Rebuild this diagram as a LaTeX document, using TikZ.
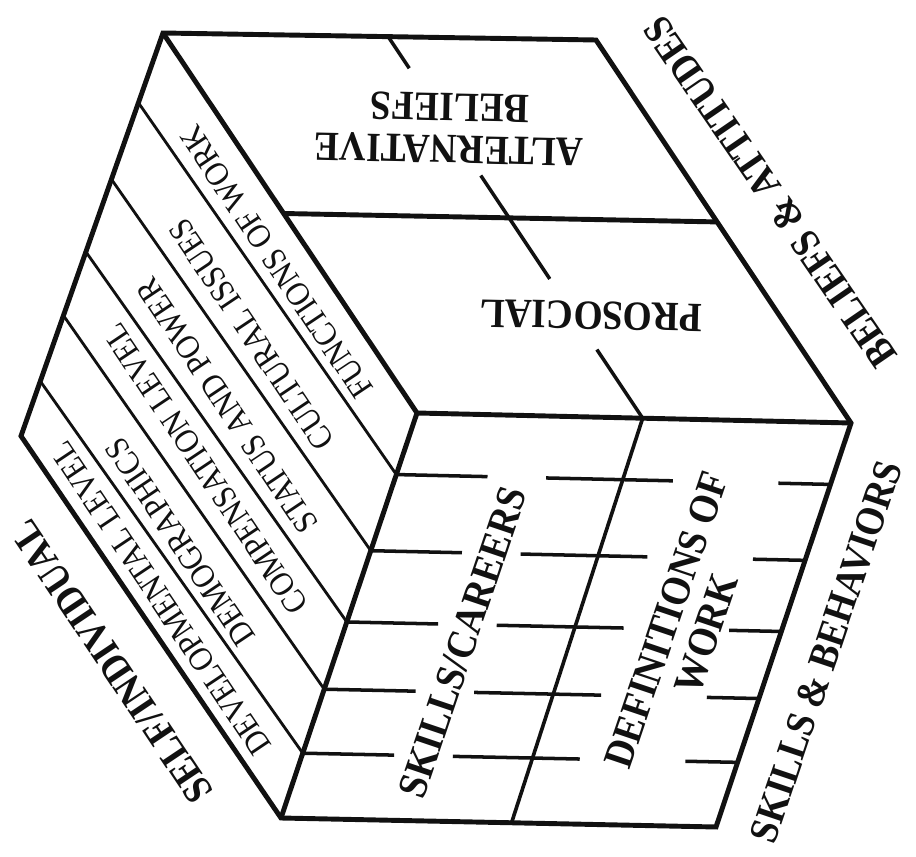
\documentclass[tikz,border=0pt]{standalone}
\usepackage{fontspec}
\setmainfont{Liberation Serif}[FakeStretch=0.9]
\usetikzlibrary{calc}

\begin{document}
\begin{tikzpicture}[
    x=0.3mm, y=-0.3mm,
    every node/.style={font=\rmfamily},
]

% ---------------------------------------------------------------- colours
\definecolor{ink}{HTML}{111111}   % every line and every word

% ================================================================
% Geometry, read off in pixels (y down), one unit = 0.3mm.
%
%   the cube is a slanted box seen from above:
%   top face    A B C D   (its words are upside down)
%   left face   A D E F   (six strips)
%   front face  D C G E   (two columns, six rows)
%
%   every inner line is placed by fractions along two opposite edges,
%   so it stays on its face
% ================================================================

\tikzset{
    cubeedge/.style={draw=ink, line width=4.2pt, line join=miter},
    divider/.style={draw=ink, line width=3.1pt},
    stripline/.style={draw=ink, line width=2.4pt},
    gridtick/.style={draw=ink, line width=3pt},
    facetxt/.style={font=\bfseries\fontsize{35.5}{36}\selectfont, text=ink,
        align=center, inner sep=0pt},
    striptxt/.style={font=\fontsize{29}{30}\selectfont, text=ink, inner sep=0pt},
    axistxt/.style={font=\bfseries\fontsize{35}{36}\selectfont, text=ink,
        inner sep=0pt},
}

\useasboundingbox (0,0) rectangle (916,857);

% ================================================================ corners
\coordinate (A) at (163,33);
\coordinate (B) at (596,40);
\coordinate (C) at (851,423);
\coordinate (D) at (417,413);
\coordinate (E) at (281,818);
\coordinate (F) at (21,436);
\coordinate (G) at (716,827);

% ================================================================ top face
\coordinate (tn) at ($(A)!0.52!(B)$);
\coordinate (ts) at ($(D)!0.52!(C)$);
\draw[cubeedge] ($(A)!0.475!(D)$) -- ($(B)!0.475!(C)$);
\foreach \qa/\qb in {0/0.083, 0.364/0.635, 0.82/1}
    \draw[gridtick] ($(tn)!\qa!(ts)$) -- ($(tn)!\qb!(ts)$);

\node[facetxt, rotate=178.7] (altbel)
    at ($($(A)!0.24!(D)$)!0.52!($(B)!0.24!(C)$)$) {ALTERNATIVE\\BELIEFS};
\node[facetxt, rotate=178.7] (prosoc)
    at ($($(A)!0.73!(D)$)!0.56!($(B)!0.73!(C)$)$) {PROSOCIAL};

% ================================================================ left face
\foreach \wa/\wd in {0.173/0.152, 0.363/0.340, 0.543/0.516, 0.701/0.682, 0.864/0.840}
    \draw[stripline] ($(A)!\wa!(F)$) -- ($(D)!\wd!(E)$);

\foreach \w/\txt [count=\i] in {0.097/FUNCTIONS OF WORK,
                                0.276/CULTURAL ISSUES,
                                0.452/STATUS AND POWER,
                                0.609/COMPENSATION LEVEL,
                                0.790/DEMOGRAPHICS,
                                0.930/DEVELOPMENTAL LEVEL}
    \node[striptxt, rotate=123.8] (strip\i)
        at ($($(A)!\w!(F)$)!0.5!($(D)!\w!(E)$)$) {\txt};

% ================================================================ front face
\draw[divider] (ts) -- ($(E)!0.53!(G)$);

% five rows of ticks, each broken where the words run through
\foreach \v in {0.152, 0.340, 0.516, 0.682, 0.840} {
    \coordinate (fl) at ($(D)!\v!(E)$);
    \coordinate (fr) at ($(C)!\v!(G)$);
    \foreach \ua/\ub in {0/0.21, 0.345/0.637, 0.88/1}
        \draw[gridtick] ($(fl)!\ua!(fr)$) -- ($(fl)!\ub!(fr)$);
}

\node[facetxt, rotate=71.3] (skicar)
    at ($($(D)!0.56!(E)$)!0.28!($(C)!0.56!(G)$)$) {SKILLS/CAREERS};
\node[facetxt, rotate=71.3] (defwork)
    at ($($(D)!0.51!(E)$)!0.78!($(C)!0.51!(G)$)$) {DEFINITIONS OF\\WORK};

% ================================================================ outline
\draw[cubeedge] (A) -- (B) -- (C) -- (G) -- (E) -- (F) -- cycle;
\draw[cubeedge] (A) -- (D) -- (C);
\draw[cubeedge] (D) -- (E);

% ================================================================ axis names
\node[axistxt, rotate=123.8] (selfind) at (112,662) {SELF/INDIVIDUAL};
\node[axistxt, rotate=124.5] (belatt)  at (770,192) {BELIEFS \& ATTITUDES};
\node[axistxt, rotate=71.3]  (skibeh)  at (826,652) {SKILLS \& BEHAVIORS};

\end{tikzpicture}
\end{document}
